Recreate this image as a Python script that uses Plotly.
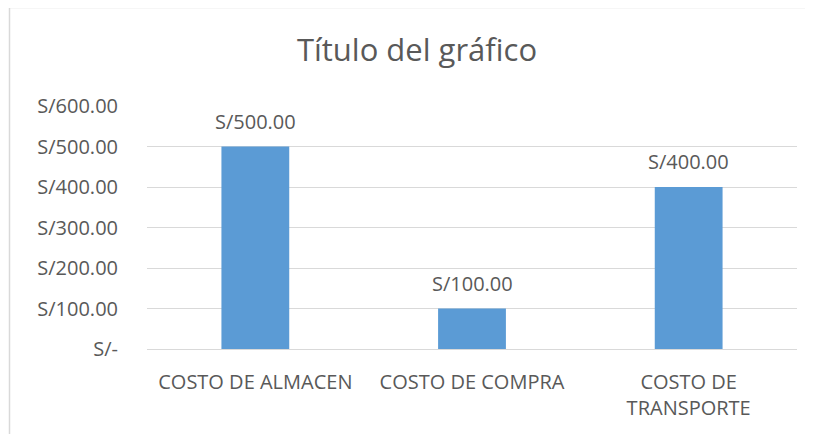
import plotly.graph_objects as go

categories = ["COSTO DE ALMACEN", "COSTO DE COMPRA", "COSTO DE<br>TRANSPORTE"]
values = [500, 100, 400]
value_labels = ["S/500.00", "S/100.00", "S/400.00"]
y_tickvals = [0, 100, 200, 300, 400, 500, 600]
y_ticktext = ["S/-", "S/100.00", "S/200.00", "S/300.00", "S/400.00", "S/500.00", "S/600.00"]

FONT = "Open Sans"
TXT = "#595959"
GRID = "#d9d9d9"

fig = go.Figure()
fig.add_trace(go.Bar(
    x=categories, y=values,
    marker=dict(color="#5B9BD5", line=dict(width=0)),
    width=0.313,
    hoverinfo="skip",
))

for c, v, t in zip(categories, values, value_labels):
    fig.add_annotation(x=c, y=v, text=t, showarrow=False, yanchor="bottom",
                       yshift=10, font=dict(family=FONT, size=20, color=TXT))

# page body has an 8px offset; compensate
OFF = 8
W, H = 813 - OFF, 434 - OFF
L, T = 147 - OFF, 106 - OFF
pw, ph = 650, 243
R, B = W - L - pw, H - T - ph

# chart frame (left and top edges visible)
fx = (9.5 - OFF - L) / pw
fy = 1 + (T - (7.5 - OFF)) / ph
fig.add_shape(type="line", xref="paper", yref="paper", x0=fx, x1=fx, y0=-1.0, y1=fy,
              line=dict(color=GRID, width=1.5), layer="below")
fig.add_shape(type="line", xref="paper", yref="paper", x0=fx, x1=1.5, y0=fy, y1=fy,
              line=dict(color=GRID, width=1.5), layer="below")

fig.update_layout(
    width=W, height=H,
    margin=dict(l=L, r=R, t=T, b=B),
    paper_bgcolor="white", plot_bgcolor="white",
    showlegend=False,
    title=dict(text="Título del gráfico", x=(417 - OFF) / W, xanchor="center",
               y=1 - (50 - OFF) / H, yanchor="middle",
               font=dict(family=FONT, size=31, color=TXT)),
    font=dict(family=FONT, color=TXT),
    xaxis=dict(showgrid=False, showline=True, linecolor=GRID, linewidth=1,
               ticks="", tickfont=dict(family=FONT, size=20, color=TXT),
               ticklabelstandoff=15, fixedrange=True),
    yaxis=dict(range=[0, 600], tickvals=y_tickvals, ticktext=y_ticktext,
               showgrid=True, gridcolor=GRID, gridwidth=1, zeroline=False,
               showline=False, ticks="", ticklabelstandoff=28,
               tickfont=dict(family=FONT, size=20, color=TXT), fixedrange=True),
)

fig.write_html("out.html")
